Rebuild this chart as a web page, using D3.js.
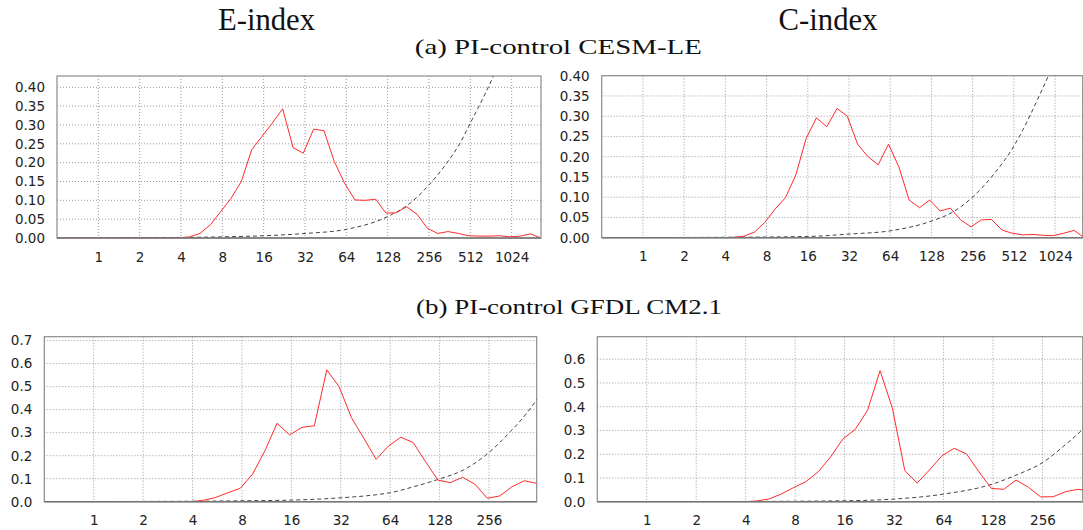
<!DOCTYPE html>
<html>
<head>
<meta charset="utf-8">
<title>E-index and C-index spectra</title>
<script src="https://d3js.org/d3.v7.min.js"></script>
<style>
body { margin: 0; background: #fff; }
.tick text { font-family: "DejaVu Sans", sans-serif; font-size: 13.5px; fill: #222; }
.title { font-family: "Liberation Serif", "Times New Roman", serif; fill: #111; }
</style>
</head>
<body>
<svg id="fig" width="1083" height="530"></svg>
<script>
// periods (years) of the spectral estimates, CESM-LE control run
var periodsCESM = [0.5, 3.89, 4.63, 5.5, 6.54, 7.78, 9.25, 11.0, 13.09, 15.56, 18.5, 22.0, 26.2, 31.1,
  37.0, 44.0, 52.3, 62.2, 74.0, 88.0, 104.7, 124.5, 148.0, 176.1, 209.4, 249.0, 296.1, 352.1,
  418.8, 498.0, 592.2, 704.2, 837.5, 995.9, 1184.4, 1408.5, 1675];
var eCESM = [0, 0, 0.003, 0.012, 0.035, 0.070, 0.105, 0.150, 0.234, 0.270, 0.305, 0.343, 0.240, 0.225,
  0.289, 0.285, 0.203, 0.145, 0.101, 0.100, 0.103, 0.066, 0.067, 0.083, 0.063, 0.026, 0.012, 0.017,
  0.012, 0.006, 0.005, 0.005, 0.006, 0.003, 0.005, 0.011, 0];
var cCESM = [0, 0, 0.001, 0.004, 0.014, 0.038, 0.071, 0.099, 0.155, 0.245, 0.296, 0.274, 0.319, 0.300,
  0.231, 0.200, 0.180, 0.231, 0.175, 0.093, 0.074, 0.093, 0.066, 0.073, 0.044, 0.027, 0.044, 0.045,
  0.019, 0.011, 0.007, 0.008, 0.006, 0.005, 0.011, 0.018, 0];

// GFDL CM2.1 control run
var periodsGFDL = [0.5, 3.91, 4.65, 5.52, 6.57, 7.81, 9.29, 11.05, 13.1, 15.6, 18.6, 22.1, 26.3, 31.25,
  37.2, 44.2, 52.6, 62.5, 74.3, 88.4, 105.1, 125, 148.7, 176.8, 210.2, 250, 297.3, 353.6, 420.4, 500];
var eGFDL = [0, 0, 0.006, 0.018, 0.039, 0.058, 0.120, 0.222, 0.341, 0.290, 0.323, 0.330, 0.573, 0.500,
  0.365, 0.276, 0.184, 0.242, 0.280, 0.257, 0.174, 0.094, 0.083, 0.106, 0.076, 0.015, 0.025, 0.065, 0.091, 0.080];
var cGFDL = [0, 0, 0.003, 0.011, 0.032, 0.059, 0.084, 0.126, 0.187, 0.264, 0.305, 0.386, 0.552, 0.394,
  0.131, 0.078, 0.134, 0.193, 0.225, 0.201, 0.126, 0.056, 0.052, 0.091, 0.061, 0.020, 0.021, 0.042, 0.052, 0.046];

// dashed reference curves
var refPeriodsEC = [0.5, 2, 8, 16, 32, 64, 128, 186, 256, 345, 431, 512, 635, 750, 1024];
var refEC = [0.0002, 0.0008, 0.003, 0.006, 0.012, 0.023, 0.057, 0.092, 0.141, 0.199, 0.252, 0.305, 0.372, 0.428, 0.56];
var refPeriodsCC = [0.5, 4, 16, 32, 64, 128, 185, 259, 362, 512, 600, 750, 942, 1200];
var refCC = [0.0002, 0.001, 0.003, 0.009, 0.017, 0.041, 0.064, 0.102, 0.155, 0.226, 0.268, 0.336, 0.41, 0.5];
var refPeriodsEG = [0.5, 4, 8, 16, 32, 55, 64, 89, 128, 179, 252, 345, 434, 491, 520];
var refEG = [0.0005, 0.002, 0.004, 0.007, 0.017, 0.032, 0.039, 0.065, 0.099, 0.138, 0.21, 0.304, 0.384, 0.435, 0.46];
var refPeriodsCG = [0.5, 4, 16, 32, 64, 128, 177, 258, 342, 449, 500];
var refCG = [0.0003, 0.001, 0.004, 0.011, 0.032, 0.075, 0.112, 0.166, 0.232, 0.305, 0.34];

// tick labels
var xTicksCESM = [1, 2, 4, 8, 16, 32, 64, 128, 256, 512, 1024];
var xTicksGFDL = [1, 2, 4, 8, 16, 32, 64, 128, 256];
var yTicksCESM = [0, 0.05, 0.10, 0.15, 0.20, 0.25, 0.30, 0.35, 0.40];
var yTicksE_GFDL = [0, 0.1, 0.2, 0.3, 0.4, 0.5, 0.6, 0.7];
var yTicksC_GFDL = [0, 0.1, 0.2, 0.3, 0.4, 0.5, 0.6];

var svg = d3.select("#fig");

function zip(xs, ys) {
  return xs.map(function(p, i) { return {p: p, v: ys[i]}; });
}

function panel(id, box, xMax, yMax, xTicks, yTicks, yFmt, periods, vals, refP, refV) {
  var x = d3.scaleLog().base(2).domain([0.5, xMax]).range([box.left, box.right]);
  var y = d3.scaleLinear().domain([0, yMax]).range([box.bottom, box.top]);
  var g = svg.append("g");

  g.append("clipPath").attr("id", id)
    .append("rect")
    .attr("x", box.left).attr("y", box.top)
    .attr("width", box.right - box.left).attr("height", box.bottom - box.top);

  // dotted grid
  g.selectAll(".gx").data(xTicks).enter().append("line")
    .attr("x1", function(d) { return x(d); }).attr("x2", function(d) { return x(d); })
    .attr("y1", box.top).attr("y2", box.bottom)
    .attr("stroke", "#999").attr("stroke-dasharray", "1,2");
  g.selectAll(".gy").data(yTicks.filter(function(d) { return d > 0; })).enter().append("line")
    .attr("x1", box.left).attr("x2", box.right)
    .attr("y1", function(d) { return y(d); }).attr("y2", function(d) { return y(d); })
    .attr("stroke", "#999").attr("stroke-dasharray", "1,2");

  g.append("rect")
    .attr("x", box.left).attr("y", box.top)
    .attr("width", box.right - box.left).attr("height", box.bottom - box.top)
    .attr("fill", "none").attr("stroke", "#8c8c8c").attr("stroke-width", 1.2);

  var ax = g.append("g").attr("transform", "translate(0," + box.bottom + ")")
    .call(d3.axisBottom(x).tickValues(xTicks).tickSize(0).tickPadding(14).tickFormat(d3.format("d")));
  ax.select(".domain").remove();
  var ay = g.append("g").attr("transform", "translate(" + box.left + ",0)")
    .call(d3.axisLeft(y).tickValues(yTicks).tickSize(0).tickPadding(12).tickFormat(d3.format(yFmt)));
  ay.select(".domain").remove();

  var lineRef = d3.line().curve(d3.curveMonotoneX)
    .x(function(d) { return x(d.p); }).y(function(d) { return y(d.v); });
  var lineData = d3.line()
    .x(function(d) { return x(d.p); }).y(function(d) { return y(d.v); });

  g.append("path").datum(zip(refP, refV))
    .attr("clip-path", "url(#" + id + ")")
    .attr("d", lineRef).attr("fill", "none")
    .attr("stroke", "#444").attr("stroke-width", 1).attr("stroke-dasharray", "4,3");
  g.append("path").datum(zip(periods, vals))
    .attr("clip-path", "url(#" + id + ")")
    .attr("d", lineData).attr("fill", "none")
    .attr("stroke", "#ff2a2a").attr("stroke-width", 1);

  // bottom axis line
  g.append("line")
    .attr("x1", box.left).attr("x2", box.right)
    .attr("y1", box.bottom).attr("y2", box.bottom)
    .attr("stroke", "#777").attr("stroke-width", 1.6);
}

panel("c1", {left: 57, right: 541, top: 76, bottom: 238}, 1675, 0.43,
  xTicksCESM, yTicksCESM, ".2f", periodsCESM, eCESM, refPeriodsEC, refEC);
panel("c2", {left: 601.7, right: 1082.7, top: 75.7, bottom: 237.7}, 1630, 0.40,
  xTicksCESM, yTicksCESM, ".2f", periodsCESM, cCESM, refPeriodsCC, refCC);
panel("c3", {left: 44.3, right: 536.7, top: 336.7, bottom: 501.7}, 500, 0.717,
  xTicksGFDL, yTicksE_GFDL, ".1f", periodsGFDL, eGFDL, refPeriodsEG, refEG);
panel("c4", {left: 597.3, right: 1082.7, top: 336.7, bottom: 501.7}, 450, 0.695,
  xTicksGFDL, yTicksC_GFDL, ".1f", periodsGFDL, cGFDL, refPeriodsCG, refCG);

// titles
function title(txt, cx, base, size, len) {
  svg.append("text").attr("class", "title")
    .attr("x", cx).attr("y", base)
    .attr("text-anchor", "middle")
    .attr("font-size", size)
    .attr("textLength", len).attr("lengthAdjust", "spacingAndGlyphs")
    .text(txt);
}
title("E-index", 266.5, 30, 31, 97);
title("C-index", 828, 30, 31, 99);
title("(a) PI-control CESM-LE", 558.3, 54, 22, 287);
title("(b) PI-control GFDL CM2.1", 569, 314, 22, 306);
</script>
</body>
</html>
